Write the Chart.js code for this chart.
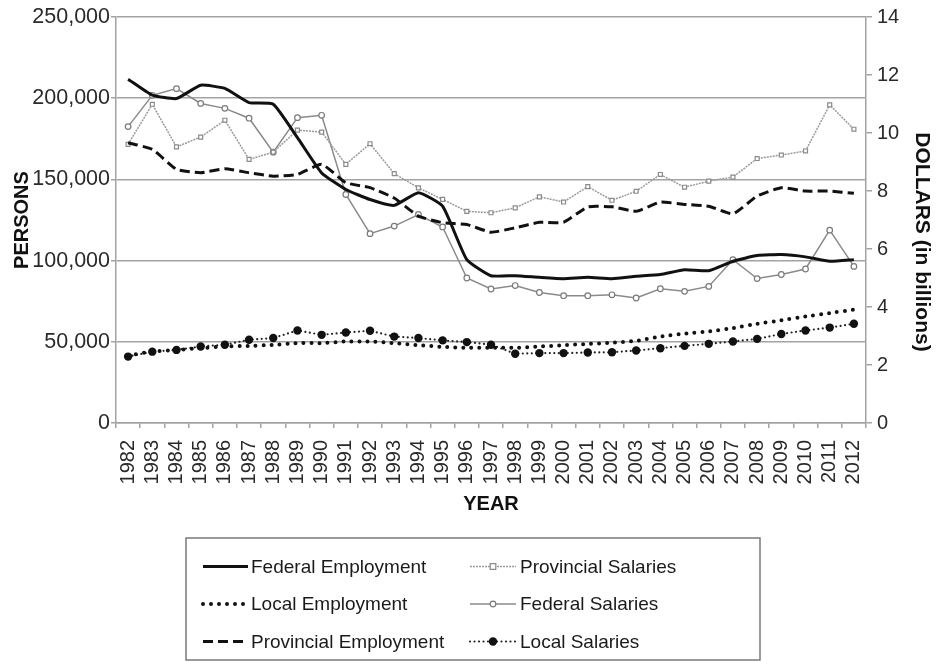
<!DOCTYPE html>
<html>
<head>
<meta charset="utf-8">
<script src="https://cdn.jsdelivr.net/npm/chart.js@4.4.0/dist/chart.umd.min.js"></script>
<style>
  html, body { margin: 0; padding: 0; background: #fff; }
  #wrap { position: relative; width: 937px; height: 667px; }
</style>
</head>
<body>
<div id="wrap"><canvas id="chart" width="937" height="667"></canvas></div>
<script>
// Public service employment (persons) and salaries (billions of dollars), 1982-2012
const years = ['1982','1983','1984','1985','1986','1987','1988','1989','1990','1991','1992',
               '1993','1994','1995','1996','1997','1998','1999','2000','2001','2002',
               '2003','2004','2005','2006','2007','2008','2009','2010','2011','2012'];

const federalEmployment = [211700, 201900, 199800, 208000, 206000, 197300, 196300, 175700, 154000, 143800, 137600,
                           134000, 141800, 133500, 100600, 90700, 90700, 89700, 88900, 89700, 88900,
                           90300, 91400, 94400, 93800, 99600, 103100, 103700, 102300, 99600, 100600];
const localEmployment = [41500, 44000, 45000, 46100, 47100, 47500, 48100, 49200, 49200, 50200, 50200,
                         49200, 47900, 46900, 46300, 46300, 46300, 47100, 47900, 48700, 49400,
                         50600, 53300, 55000, 56400, 58400, 61100, 63200, 65600, 67700, 69800];
const provincialEmployment = [172600, 168500, 156200, 154100, 156600, 154100, 152000, 153100, 159300, 148000, 144900,
                              138500, 127400, 123300, 122200, 117500, 120200, 123600, 123600, 133100, 133100,
                              130400, 136000, 134600, 133500, 128800, 139700, 144900, 142800, 142800, 141400];

const provincialSalaries = [9.61, 10.99, 9.52, 9.86, 10.44, 9.09, 9.34, 10.10, 10.03, 8.92, 9.63,
                            8.60, 8.11, 7.71, 7.30, 7.25, 7.42, 7.80, 7.62, 8.15, 7.68,
                            7.99, 8.57, 8.13, 8.34, 8.48, 9.12, 9.24, 9.38, 10.97, 10.13];
const federalSalaries = [10.22, 11.30, 11.53, 11.02, 10.85, 10.51, 9.34, 10.53, 10.61, 7.88, 6.53,
                         6.79, 7.19, 6.76, 5.00, 4.62, 4.74, 4.50, 4.39, 4.39, 4.42,
                         4.31, 4.63, 4.54, 4.71, 5.63, 4.98, 5.12, 5.31, 6.65, 5.40];
const localSalaries = [2.29, 2.46, 2.52, 2.64, 2.70, 2.87, 2.93, 3.19, 3.04, 3.12, 3.18,
                       2.98, 2.93, 2.85, 2.79, 2.70, 2.39, 2.41, 2.41, 2.43, 2.44,
                       2.50, 2.58, 2.66, 2.73, 2.81, 2.90, 3.07, 3.19, 3.29, 3.42];

const personsTicks = { min: 0, max: 250000, step: 50000 };
const dollarsTicks = { min: 0, max: 14, step: 2 };

const FONT = '"Liberation Sans", Arial, sans-serif';
const GRID = '#a3a3a3';

const withCommas = v => String(v).replace(/\B(?=(\d{3})+(?!\d))/g, ',');

const datasets = [
  { label: 'Federal Employment', data: federalEmployment, yAxisID: 'y',
    borderColor: '#111', borderWidth: 3, tension: 0.15, pointRadius: 0 },
  { label: 'Local Employment', data: localEmployment, yAxisID: 'y',
    borderColor: '#111', borderWidth: 4, borderDash: [0, 8], borderCapStyle: 'round',
    tension: 0.15, pointRadius: 0 },
  { label: 'Provincial Employment', data: provincialEmployment, yAxisID: 'y',
    borderColor: '#111', borderWidth: 3, borderDash: [10, 5], tension: 0.15, pointRadius: 0 },
  { label: 'Provincial Salaries', data: provincialSalaries, yAxisID: 'y2',
    borderColor: '#9a9a9a', borderWidth: 1.5, borderDash: [2, 1], tension: 0,
    pointStyle: 'rect', pointRadius: 2.8, pointBorderWidth: 1.2,
    pointBorderColor: '#8a8a8a', pointBackgroundColor: '#fff' },
  { label: 'Federal Salaries', data: federalSalaries, yAxisID: 'y2',
    borderColor: '#8a8a8a', borderWidth: 1.5, tension: 0,
    pointStyle: 'circle', pointRadius: 2.8, pointBorderWidth: 1.2,
    pointBorderColor: '#7a7a7a', pointBackgroundColor: '#fff' },
  { label: 'Local Salaries', data: localSalaries, yAxisID: 'y2',
    borderColor: '#222', borderWidth: 2.2, borderDash: [0, 4.5], borderCapStyle: 'round', tension: 0,
    pointStyle: 'circle', pointRadius: 4.2, pointBorderWidth: 0,
    pointBackgroundColor: '#111', pointBorderColor: '#111' }
];

// right axis title and the boxed two-column legend under the plot
const extras = {
  id: 'extras',
  afterDraw(chart) {
    const ctx = chart.ctx;
    const area = chart.chartArea;

    ctx.save();
    ctx.translate(chart.width - 15, (area.top + area.bottom) / 2 + 22);
    ctx.rotate(Math.PI / 2);
    ctx.font = 'bold 21px ' + FONT;
    ctx.fillStyle = '#111';
    ctx.textAlign = 'center';
    ctx.textBaseline = 'middle';
    ctx.fillText('DOLLARS (in billions)', 0, 0);
    ctx.restore();

    const box = { x: 186, y: 538, w: 574, h: 122 };
    ctx.save();
    ctx.strokeStyle = '#7a7a7a';
    ctx.lineWidth = 1.5;
    ctx.strokeRect(box.x, box.y, box.w, box.h);

    const cols = [{ x0: 203, x1: 248, tx: 251 }, { x0: 470, x1: 516, tx: 520 }];
    const rows = [566.5, 604, 641.5];
    chart.data.datasets.forEach((ds, i) => {
      const c = cols[Math.floor(i / 3)];
      const y = rows[i % 3];
      ctx.save();
      ctx.strokeStyle = ds.borderColor;
      ctx.lineWidth = ds.borderWidth;
      ctx.lineCap = ds.borderCapStyle || 'butt';
      ctx.setLineDash(ds.borderDash || []);
      ctx.beginPath();
      ctx.moveTo(c.x0, y);
      ctx.lineTo(c.x1, y);
      ctx.stroke();
      ctx.restore();
      if (ds.pointRadius) {
        const mx = (c.x0 + c.x1) / 2, r = ds.pointRadius;
        ctx.save();
        ctx.setLineDash([]);
        ctx.fillStyle = ds.pointBackgroundColor;
        ctx.strokeStyle = ds.pointBorderColor;
        ctx.lineWidth = ds.pointBorderWidth || 0;
        ctx.beginPath();
        if (ds.pointStyle === 'rect') ctx.rect(mx - r, y - r, 2 * r, 2 * r);
        else ctx.arc(mx, y, r, 0, Math.PI * 2);
        ctx.fill();
        if (ds.pointBorderWidth) ctx.stroke();
        ctx.restore();
      }
      ctx.font = '19px ' + FONT;
      ctx.fillStyle = '#1a1a1a';
      ctx.textAlign = 'left';
      ctx.textBaseline = 'middle';
      ctx.fillText(ds.label, c.tx, y + 1);
    });
    ctx.restore();
  }
};

new Chart(document.getElementById('chart'), {
  type: 'line',
  data: { labels: years, datasets: datasets },
  plugins: [extras],
  options: {
    responsive: false,
    animation: false,
    devicePixelRatio: 1,
    layout: { padding: { top: 6, left: 0, right: 0, bottom: 147 } },
    plugins: { legend: { display: false }, tooltip: { enabled: false } },
    scales: {
      x: {
        offset: true,
        grid: { offset: true, drawOnChartArea: false, tickLength: 5, color: GRID, lineWidth: 1.5 },
        border: { color: GRID, width: 1.5 },
        ticks: { autoSkip: false, minRotation: 90, maxRotation: 90, padding: 12,
                 color: '#2a2a2a', font: { family: FONT, size: 20 } },
        title: { display: true, text: 'YEAR', color: '#111', padding: { top: 4, bottom: 4 },
                 font: { family: FONT, size: 20, weight: 'bold' } },
        afterFit(scale) { scale.height = 97; }
      },
      y: {
        position: 'left',
        min: personsTicks.min, max: personsTicks.max,
        grid: { color: GRID, lineWidth: 1.5, tickLength: 5 },
        border: { color: GRID, width: 1.5 },
        ticks: { stepSize: personsTicks.step, padding: 1, color: '#2a2a2a',
                 font: { family: FONT, size: 21.5 }, callback: v => withCommas(v) },
        title: { display: true, text: 'PERSONS', color: '#111', padding: { top: 10, bottom: 0 },
                 font: { family: FONT, size: 20, weight: 'bold' } },
        afterFit(scale) { scale.width = 116; }
      },
      y2: {
        position: 'right',
        min: dollarsTicks.min, max: dollarsTicks.max,
        grid: { drawOnChartArea: false, color: GRID, lineWidth: 1.5, tickLength: 6 },
        border: { color: GRID, width: 1.5 },
        ticks: { stepSize: dollarsTicks.step, padding: 5, color: '#2a2a2a',
                 font: { family: FONT, size: 20 } },
        afterFit(scale) { scale.width = 71; }
      }
    }
  }
});
</script>
</body>
</html>
